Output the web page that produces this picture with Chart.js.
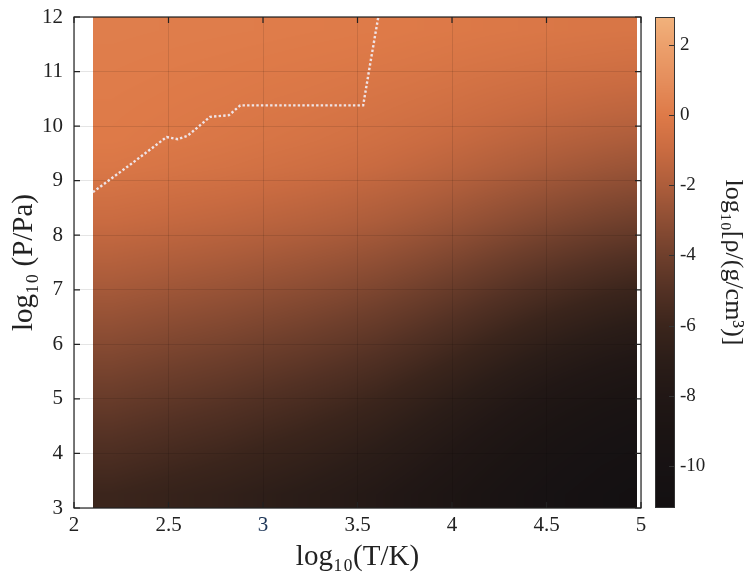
<!DOCTYPE html>
<html><head><meta charset="utf-8">
<script src="https://cdn.jsdelivr.net/npm/chart.js@4.4.1/dist/chart.umd.min.js"></script>
<style>html,body{margin:0;padding:0;background:#fff}#wrap{width:748px;height:580px}</style>
</head><body><div id="wrap"><canvas id="c" width="748" height="580"></canvas></div>
<script>
// ---- data ----
const xTicks = [2, 2.5, 3, 3.5, 4, 4.5, 5];
const yTicks = [3, 4, 5, 6, 7, 8, 9, 10, 11, 12];
const cbTicks = [-10, -8, -6, -4, -2, 0, 2];
const cbRange = [-11.2, 2.8];
// cell edges in log10(T/K) and log10(P/Pa)
const tEdges = [2.1, 2.3, 2.5, 2.7, 2.9, 3.1, 3.3, 3.5, 3.7, 3.9, 4.1, 4.3, 4.5, 4.7, 4.9, 4.98];
const pEdges = [3, 3.5, 4, 4.5, 5, 5.5, 6, 6.5, 7, 7.5, 8, 8.5, 9, 9.5, 10, 10.5, 11, 11.5, 12];
// log10 density, one row per pressure bin (bottom to top), one value per temperature bin
const logRho = [
  [-6.0,-6.2,-6.4,-6.6,-6.85,-7.1,-7.4,-7.75,-8.2,-8.7,-9.25,-9.8,-10.3,-10.75,-11.0],
  [-5.5,-5.7,-5.91,-6.11,-6.37,-6.62,-6.93,-7.29,-7.74,-8.25,-8.82,-9.38,-9.89,-10.35,-10.6],
  [-5.0,-5.2,-5.41,-5.61,-5.87,-6.12,-6.43,-6.79,-7.24,-7.75,-8.32,-8.88,-9.39,-9.85,-10.1],
  [-4.5,-4.7,-4.9,-5.1,-5.35,-5.6,-5.9,-6.25,-6.7,-7.2,-7.75,-8.3,-8.8,-9.25,-9.5],
  [-4.0,-4.19,-4.38,-4.58,-4.82,-5.06,-5.34,-5.68,-6.11,-6.59,-7.12,-7.65,-8.13,-8.56,-8.8],
  [-3.5,-3.68,-3.86,-4.04,-4.27,-4.49,-4.76,-5.08,-5.48,-5.93,-6.43,-6.92,-7.37,-7.78,-8.0],
  [-3.0,-3.17,-3.34,-3.5,-3.71,-3.92,-4.18,-4.47,-4.85,-5.27,-5.73,-6.19,-6.61,-6.99,-7.2],
  [-2.5,-2.66,-2.81,-2.97,-3.16,-3.36,-3.59,-3.87,-4.22,-4.61,-5.04,-5.46,-5.85,-6.21,-6.4],
  [-2.0,-2.14,-2.29,-2.43,-2.61,-2.79,-3.01,-3.26,-3.58,-3.94,-4.34,-4.74,-5.1,-5.42,-5.6],
  [-1.5,-1.63,-1.76,-1.9,-2.06,-2.23,-2.42,-2.66,-2.95,-3.28,-3.65,-4.01,-4.34,-4.64,-4.8],
  [-1.0,-1.12,-1.24,-1.36,-1.51,-1.66,-1.84,-2.05,-2.32,-2.62,-2.95,-3.28,-3.58,-3.85,-4.0],
  [-0.6,-0.71,-0.82,-0.92,-1.06,-1.19,-1.36,-1.55,-1.79,-2.06,-2.36,-2.65,-2.92,-3.17,-3.3],
  [-0.2,-0.3,-0.39,-0.49,-0.61,-0.73,-0.87,-1.04,-1.26,-1.5,-1.76,-2.02,-2.26,-2.48,-2.6],
  [0.0,-0.08,-0.16,-0.24,-0.34,-0.44,-0.56,-0.7,-0.88,-1.08,-1.3,-1.52,-1.72,-1.9,-2.0],
  [0.05,-0.01,-0.07,-0.13,-0.21,-0.28,-0.37,-0.48,-0.61,-0.76,-0.93,-1.09,-1.24,-1.38,-1.45],
  [0.1,0.06,0.01,-0.03,-0.09,-0.14,-0.21,-0.29,-0.38,-0.49,-0.62,-0.74,-0.85,-0.95,-1.0],
  [0.15,0.12,0.09,0.06,0.02,-0.02,-0.06,-0.11,-0.18,-0.26,-0.34,-0.42,-0.5,-0.56,-0.6],
  [0.2,0.18,0.16,0.14,0.12,0.09,0.06,0.03,-0.02,-0.07,-0.13,-0.18,-0.23,-0.28,-0.3]
];
// phase boundary (dotted line)
const boundaryT = [2.10, 2.30, 2.49, 2.55, 2.60, 2.72, 2.82, 2.88, 3.53, 3.57, 3.61];
const boundaryP = [8.79, 9.30, 9.80, 9.76, 9.82, 10.17, 10.20, 10.38, 10.38, 11.20, 12.00];

// ---- colormap (style) ----
const cmapVals = [-11.2, -10, -9, -8, -7, -6, -5, -4, -3, -2, -1, 0, 1, 2, 2.8];
const cmapColors = ['#131011','#171213','#1b1413','#211715','#2b1d18','#3b251c','#533124','#6f3f2c',
  '#8e4e34','#ad5d3b','#c96b41','#de7a48','#e58e5c','#eca06c','#f1b27c'];
const cmapRGB = cmapColors.map(h => [parseInt(h.slice(1,3),16), parseInt(h.slice(3,5),16), parseInt(h.slice(5,7),16)]);
function cmapArr(v) {
  if (v <= cmapVals[0]) return cmapRGB[0];
  for (let i = 1; i < cmapVals.length; i++) {
    if (v <= cmapVals[i]) {
      const f = (v - cmapVals[i-1]) / (cmapVals[i] - cmapVals[i-1]);
      const a = cmapRGB[i-1], b = cmapRGB[i];
      return [0,1,2].map(k => Math.round(a[k] + (b[k]-a[k]) * f));
    }
  }
  return cmapRGB[cmapRGB.length-1];
}
const cmap = v => 'rgb(' + cmapArr(v).join(',') + ')';

const FONT = "'Liberation Serif','DejaVu Serif',serif";
const INK = '#222';

function locate(centers, v) {
  const n = centers.length;
  if (v <= centers[0]) return [0, 0, 0];
  if (v >= centers[n-1]) return [n-1, n-1, 0];
  for (let i = 0; i < n - 1; i++) {
    if (v < centers[i+1]) return [i, i+1, (v - centers[i]) / (centers[i+1] - centers[i])];
  }
  return [n-1, n-1, 0];
}

const heatmap = {
  id: 'heatmap',
  beforeDraw(chart) {
    const {ctx, scales: {x, y}} = chart;
    const tc = tEdges.slice(0, -1).map((e, i) => (e + tEdges[i+1]) / 2);
    const pc = pEdges.slice(0, -1).map((e, i) => (e + pEdges[i+1]) / 2);
    const X0 = Math.round(x.getPixelForValue(tEdges[0]));
    const X1 = Math.round(x.getPixelForValue(tEdges[tEdges.length-1]));
    const Y0 = Math.round(y.getPixelForValue(pEdges[pEdges.length-1]));
    const Y1 = Math.round(y.getPixelForValue(pEdges[0]));
    const w = X1 - X0, h = Y1 - Y0;
    const img = ctx.createImageData(w, h);
    const cols = [];
    for (let i = 0; i < w; i++) cols.push(locate(tc, x.getValueForPixel(X0 + i + 0.5)));
    for (let j = 0; j < h; j++) {
      const [r0, r1, fr] = locate(pc, y.getValueForPixel(Y0 + j + 0.5));
      for (let i = 0; i < w; i++) {
        const [c0, c1, fc] = cols[i];
        const v = (1-fr) * ((1-fc) * logRho[r0][c0] + fc * logRho[r0][c1]) +
                  fr * ((1-fc) * logRho[r1][c0] + fc * logRho[r1][c1]);
        const rgb = cmapArr(v);
        const k = (j * w + i) * 4;
        img.data[k] = rgb[0]; img.data[k+1] = rgb[1]; img.data[k+2] = rgb[2]; img.data[k+3] = 255;
      }
    }
    ctx.putImageData(img, X0, Y0);
  },
  afterDraw(chart) {
    const {ctx, chartArea: a, scales: {x, y, cb}} = chart;
    ctx.save();
    ctx.strokeStyle = INK; ctx.lineWidth = 1.2;
    ctx.strokeRect(a.left, a.top, a.right - a.left, a.bottom - a.top);
    ctx.beginPath();
    const L = 6;
    xTicks.forEach(v => { const px = x.getPixelForValue(v);
      ctx.moveTo(px, a.bottom); ctx.lineTo(px, a.bottom - L);
      ctx.moveTo(px, a.top); ctx.lineTo(px, a.top + L); });
    yTicks.forEach(v => { const py = y.getPixelForValue(v);
      ctx.moveTo(a.left, py); ctx.lineTo(a.left + L, py);
      ctx.moveTo(a.right, py); ctx.lineTo(a.right - L, py); });
    ctx.stroke();
    // colorbar
    const bx = a.right + 14, bw = 19;
    for (let py = Math.floor(cb.top); py < Math.ceil(cb.bottom); py++) {
      ctx.fillStyle = cmap(cb.getValueForPixel(py + 0.5));
      ctx.fillRect(bx, py, bw, 1);
    }
    ctx.strokeStyle = '#333'; ctx.lineWidth = 1;
    ctx.strokeRect(bx + 0.5, cb.top + 0.5, bw, cb.bottom - cb.top - 1);
    ctx.beginPath();
    cbTicks.forEach(v => { const py = Math.round(cb.getPixelForValue(v)) + 0.5;
      ctx.moveTo(bx + bw, py); ctx.lineTo(bx + bw - 5, py); });
    ctx.stroke();
    ctx.restore();
  }
};

const noPad = s => { s.paddingTop = 0; s.paddingBottom = 0; s.paddingLeft = 0; s.paddingRight = 0; };

new Chart(document.getElementById('c'), {
  type: 'scatter',
  data: {
    datasets: [{
      data: boundaryT.map((t, i) => ({x: t, y: boundaryP[i]})),
      showLine: true,
      borderColor: 'rgba(240,234,240,0.95)',
      borderWidth: 2.4,
      borderDash: [2.4, 2.2],
      pointRadius: 0,
      fill: false,
      tension: 0
    }]
  },
  options: {
    responsive: false,
    animation: false,
    devicePixelRatio: 1,
    layout: {padding: {top: 17, left: 0, right: 0, bottom: 0}},
    plugins: {legend: {display: false}, tooltip: {enabled: false}},
    scales: {
      x: {
        type: 'linear', min: 2, max: 5,
        afterBuildTicks: s => { s.ticks = xTicks.map(v => ({value: v})); },
        afterFit: s => { s.height = 72; noPad(s); },
        grid: {color: 'rgba(0,0,0,0.10)', drawTicks: false},
        border: {display: false},
        ticks: {font: {family: FONT, size: 21}, padding: 5, callback: v => String(v),
          color: c => (c.tick && c.tick.value === 3) ? '#1c3557' : INK},
        title: {display: true, text: 'log₁₀(T/K)', font: {family: FONT, size: 29}, color: INK,
          padding: {top: 0, bottom: 5}}
      },
      y: {
        type: 'linear', min: 3, max: 12,
        afterBuildTicks: s => { s.ticks = yTicks.map(v => ({value: v})); },
        afterFit: s => { s.width = 74; noPad(s); },
        grid: {color: 'rgba(0,0,0,0.10)', drawTicks: false},
        border: {display: false},
        ticks: {font: {family: FONT, size: 21}, padding: 11, color: INK, callback: v => String(v)},
        title: {display: true, text: 'log₁₀ (P/Pa)', font: {family: FONT, size: 29}, color: INK,
          padding: {top: 7, bottom: 0}}
      },
      cb: {
        type: 'linear', position: 'right', min: cbRange[0], max: cbRange[1],
        afterBuildTicks: s => { s.ticks = cbTicks.map(v => ({value: v})); },
        afterFit: s => { s.width = 107; noPad(s); },
        grid: {display: false, drawTicks: false},
        border: {display: false},
        ticks: {font: {family: FONT, size: 19}, padding: 39, color: INK, callback: v => String(v)},
        title: {display: true, text: 'log₁₀[ρ/(g/cm³)]', font: {family: FONT, size: 26}, color: INK,
          padding: {top: 0, bottom: 0}}
      }
    }
  },
  plugins: [heatmap]
});
</script></body></html>
